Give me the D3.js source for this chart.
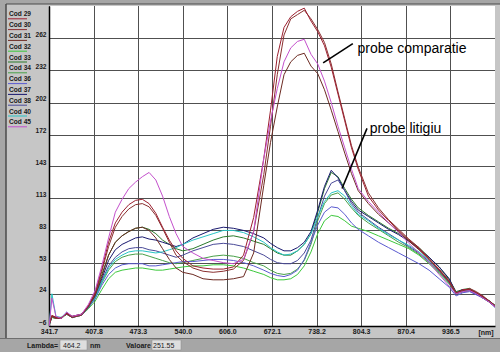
<!DOCTYPE html>
<html>
<head>
<meta charset="utf-8">
<script src="https://cdn.jsdelivr.net/npm/d3@7"></script>
<style>
  html, body { margin: 0; padding: 0; background: #a6a6a6; }
  svg { display: block; }
</style>
</head>
<body>
<div id="chart"></div>
<script>
// Spectra (nm vs value) for 11 samples
const WAVELENGTHS = [342, 346, 352, 360, 368, 376, 390, 400,
  410, 420, 430, 440, 450, 460, 470, 480, 490, 500, 510, 520, 530, 540,
  555, 570, 585, 600, 615, 630, 645, 660,
  670, 680, 690, 700, 710, 720, 730, 740, 750, 760, 770, 780, 790, 800,
  815, 830, 845, 860, 875, 890, 905, 920, 935,
  945, 955, 965, 975, 985, 995, 1003]

const COD_29 = [-4, 4, 2, 1, 6, 3, 5, 13,
  25, 47, 72, 90, 100, 107, 111, 112, 108, 99, 86, 74, 64, 57,
  50, 48, 47, 47, 49, 60, 95, 150,
  195, 245, 272, 282, 287, 290, 278, 268, 255, 235, 210, 185, 160, 140,
  115, 102, 92, 83, 74, 66, 56, 46, 35,
  24, 28, 28, 25, 21, 16, 12]
const COD_30 = [-5, 3, 1, 2, 5, 2, 4, 12,
  24, 45, 68, 86, 96, 103, 107, 108, 105, 97, 85, 72, 60, 54,
  48, 45, 44, 45, 47, 55, 82, 135,
  180, 228, 265, 280, 284, 288, 280, 270, 258, 238, 212, 187, 162, 142,
  118, 104, 93, 84, 75, 67, 57, 47, 36,
  25, 27, 29, 26, 22, 17, 13]
const COD_31 = [-4, 3, 2, 1, 6, 2, 5, 12,
  22, 40, 60, 72, 78, 82, 85, 86, 83, 76, 66, 56, 48, 44,
  42, 38, 37, 37, 38, 40, 62, 125,
  165, 198, 228, 240, 246, 248, 236, 229, 214, 195, 175, 155, 136, 120,
  108, 98, 90, 82, 73, 65, 56, 46, 35,
  25, 27, 28, 25, 21, 17, 13]
const COD_32 = [-5, 2, 1, 1, 5, 2, 4, 10,
  17, 28, 38, 44, 46, 47, 48, 48, 47, 46, 46, 47, 48, 49,
  50, 50, 51, 51, 50, 48, 45, 42,
  39, 37, 37, 38, 42, 50, 63, 80, 92, 97, 96, 92, 87, 85,
  82, 78, 74, 70, 66, 60, 52, 43, 33,
  24, 26, 27, 24, 20, 16, 12]
const COD_33 = [-4, 3, 2, 1, 6, 2, 5, 12,
  24, 42, 60, 72, 78, 82, 85, 86, 84, 80, 74, 70, 66, 64,
  66, 70, 74, 77, 78, 76, 73, 70,
  66, 62, 60, 60, 64, 70, 80, 100, 122, 137, 133, 122, 112, 104,
  97, 91, 85, 80, 74, 67, 58, 49, 37,
  26, 28, 29, 25, 21, 17, 13]
const COD_34 = [-5, 2, 1, 2, 5, 2, 4, 11,
  20, 34, 46, 54, 58, 60, 61, 61, 59, 57, 55, 53, 52, 53,
  55, 57, 59, 60, 59, 57, 53, 50,
  46, 43, 42, 43, 47, 55, 70, 92, 108, 116, 118, 112, 104, 97,
  90, 84, 78, 72, 67, 61, 53, 44, 34,
  24, 26, 27, 24, 20, 16, 12]
const COD_36 = [-5, 3, 2, 1, 6, 2, 4, 11,
  19, 32, 42, 48, 51, 52, 52, 52, 50, 50, 51, 52, 53, 54,
  54, 55, 56, 56, 55, 53, 50, 46,
  43, 41, 40, 42, 46, 56, 72, 88, 100, 105, 104, 98, 90, 84,
  78, 72, 67, 62, 57, 52, 46, 38, 30,
  22, 25, 26, 23, 20, 16, 11]
const COD_37 = [-4, 3, 2, 1, 6, 3, 5, 12,
  22, 38, 55, 65, 70, 73, 76, 77, 75, 74, 72, 70, 68, 70,
  76, 80, 84, 86, 85, 83, 80, 76,
  71, 67, 64, 64, 67, 72, 82, 102, 124, 139, 132, 120, 110, 102,
  96, 90, 84, 79, 73, 66, 58, 49, 38,
  25, 28, 28, 24, 21, 17, 12]
const COD_38 = [-5, 3, 1, 2, 5, 2, 5, 11,
  21, 36, 50, 58, 63, 66, 67, 67, 65, 64, 62, 60, 58, 60,
  64, 67, 70, 71, 70, 68, 64, 60,
  56, 53, 52, 52, 55, 62, 74, 95, 115, 127, 130, 120, 108, 100,
  93, 86, 80, 74, 68, 62, 54, 45, 34,
  24, 26, 27, 24, 20, 16, 12]
const COD_40 = [-6, 24, 3, 2, 7, 2, 5, 12,
  20, 35, 48, 56, 60, 63, 64, 64, 63, 62, 63, 65, 67, 70,
  74, 77, 80, 83, 83, 81, 77, 72,
  67, 63, 60, 61, 64, 70, 80, 96, 110, 118, 120, 115, 106, 98,
  92, 85, 79, 74, 69, 63, 55, 46, 35,
  25, 27, 28, 25, 21, 17, 13]
const COD_45 = [-6, 20, 3, 1, 7, 3, 5, 14,
  27, 50, 76, 100, 112, 122, 128, 133, 137, 130, 115, 96, 80, 68,
  62, 57, 55, 53, 52, 56, 82, 150,
  185, 215, 240, 253, 259, 261, 247, 238, 222, 202, 180, 160, 140, 122,
  110, 100, 90, 81, 71, 62, 53, 42, 31,
  24, 26, 27, 24, 20, 16, 12]

const SERIES_NAMES = ['Cod 29', 'Cod 30', 'Cod 31', 'Cod 32', 'Cod 33', 'Cod 34',
  'Cod 36', 'Cod 37', 'Cod 38', 'Cod 40', 'Cod 45']
const SERIES_VALUES = [COD_29, COD_30, COD_31, COD_32, COD_33, COD_34,
  COD_36, COD_37, COD_38, COD_40, COD_45]
const SERIES_COLORS = ['#9c2030', '#8a3030', '#6c2a22', '#3cc83c', '#2a7a2a', '#48a048',
  '#5a5ad0', '#18186e', '#4a4a98', '#28c4c4', '#c450cc']
// draw the comparison samples last so they sit on top
const DRAW_ORDER = [3, 4, 5, 6, 7, 8, 9, 2, 1, 0, 10]

const X_TICKS = [341.7, 407.8, 473.3, 540.0, 606.0, 672.1, 738.2, 804.3, 870.4, 936.5]
const X_DOMAIN = [341.7, 1002.7]
const Y_TICKS = [-6, 24, 53, 83, 113, 143, 172, 202, 232, 262]
const Y_DOMAIN = [-6, 292]

// annotation text + leader line ends, in data units (nm, value)
const NOTES = [
  { text: 'probe comparatie', at: [799, 248], from: [792, 257], to: [748, 239] },
  { text: 'probe litigiu', at: [817, 174], from: [813, 178], to: [776, 122] }
]

const W = 500
const H = 352
const margin = { top: 6, right: 5, bottom: 26, left: 49 }
const FONT = '"Liberation Sans", Arial, sans-serif'

const svg = d3.select('#chart').append('svg')
  .attr('width', W).attr('height', H)

// window frame
svg.append('rect').attr('width', W).attr('height', H).attr('fill', '#a6a6a6')
svg.append('rect')
  .attr('x', 6).attr('y', 4).attr('width', W - 6).attr('height', 334)
  .attr('fill', '#c6c6c6')
svg.append('line')
  .attr('x1', 6).attr('x2', 6).attr('y1', 4).attr('y2', 338)
  .attr('stroke', '#4a4a4a').attr('stroke-width', 1.5)
svg.append('line')
  .attr('x1', 6).attr('x2', W).attr('y1', 4).attr('y2', 4)
  .attr('stroke', '#4a4a4a').attr('stroke-width', 1)
svg.append('line')
  .attr('x1', 0).attr('x2', W).attr('y1', 338.5).attr('y2', 338.5)
  .attr('stroke', '#6e6e6e').attr('stroke-width', 1)

const x = d3.scaleLinear().domain(X_DOMAIN).range([margin.left, W - margin.right])
const y = d3.scaleLinear().domain(Y_DOMAIN).range([H - margin.bottom, margin.top])

// plot area
svg.append('rect')
  .attr('x', x.range()[0]).attr('y', y.range()[1])
  .attr('width', x.range()[1] - x.range()[0])
  .attr('height', y.range()[0] - y.range()[1])
  .attr('fill', '#ffffff')

svg.append('defs').append('clipPath').attr('id', 'plot-clip')
  .append('rect')
  .attr('x', x.range()[0]).attr('y', y.range()[1])
  .attr('width', x.range()[1] - x.range()[0])
  .attr('height', y.range()[0] - y.range()[1])

// grid
const grid = svg.append('g').attr('class', 'grid')
grid.selectAll('.gx').data(X_TICKS).join('line')
  .attr('class', 'gx')
  .attr('x1', d => Math.round(x(d)) + 0.5).attr('x2', d => Math.round(x(d)) + 0.5)
  .attr('y1', y.range()[1]).attr('y2', y.range()[0])
  .attr('stroke', '#505050').attr('stroke-width', 1)
grid.selectAll('.gy').data(Y_TICKS).join('line')
  .attr('class', 'gy')
  .attr('x1', x.range()[0]).attr('x2', x.range()[1])
  .attr('y1', d => Math.round(y(d)) + 0.5).attr('y2', d => Math.round(y(d)) + 0.5)
  .attr('stroke', '#505050').attr('stroke-width', 1)

// axes
const xAxis = svg.append('g')
  .attr('transform', `translate(0,${y.range()[0]})`)
  .call(d3.axisBottom(x).tickValues(X_TICKS).tickSize(0).tickPadding(3.5)
    .tickFormat(d3.format('.1f')))
xAxis.select('.domain').attr('stroke', '#000').attr('stroke-width', 1.5)
xAxis.selectAll('.tick text')
  .attr('fill', '#1a1a1a').attr('font-size', '7px').attr('font-weight', 'bold')
  .attr('font-family', FONT)

const yAxis = svg.append('g')
  .attr('transform', `translate(${x.range()[0]},0)`)
  .call(d3.axisLeft(y).tickValues(Y_TICKS).tickSize(0).tickPadding(2.5))
yAxis.select('.domain').attr('stroke', '#000').attr('stroke-width', 1.5)
yAxis.selectAll('.tick text')
  .attr('fill', '#1a1a1a').attr('font-size', '6.6px').attr('font-weight', 'bold')
  .attr('font-family', FONT)
  .attr('dy', '-0.3em')

svg.append('text')
  .attr('x', 486).attr('y', 334.5)
  .attr('text-anchor', 'middle')
  .attr('fill', '#1a1a1a').attr('font-size', '7px').attr('font-weight', 'bold')
  .attr('font-family', FONT)
  .text('[nm]')

// spectra
const lineFn = d3.line()
  .x((d, i) => x(WAVELENGTHS[i]))
  .y(d => y(d))

svg.append('g').attr('class', 'lines').attr('clip-path', 'url(#plot-clip)')
  .selectAll('path')
  .data(DRAW_ORDER)
  .join('path')
  .attr('d', i => lineFn(SERIES_VALUES[i]))
  .attr('fill', 'none')
  .attr('stroke', i => SERIES_COLORS[i])
  .attr('stroke-width', 1)
  .attr('stroke-linejoin', 'round')

// legend in the left panel
const legend = svg.append('g').attr('class', 'legend')
  .selectAll('g').data(SERIES_NAMES).join('g')
  .attr('transform', (d, i) => `translate(9,${14 + i * 10.8})`)
legend.append('text')
  .attr('y', 2.4)
  .attr('fill', '#1a1a1a').attr('font-size', '6.6px').attr('font-weight', 'bold')
  .attr('font-family', FONT)
  .text(d => d)
legend.append('line')
  .attr('x1', -1).attr('x2', 18).attr('y1', 4.8).attr('y2', 4.8)
  .attr('stroke', (d, i) => SERIES_COLORS[i]).attr('stroke-width', 1)

// annotations
const notes = svg.append('g').attr('class', 'notes')
notes.selectAll('line').data(NOTES).join('line')
  .attr('x1', d => x(d.from[0])).attr('y1', d => y(d.from[1]))
  .attr('x2', d => x(d.to[0])).attr('y2', d => y(d.to[1]))
  .attr('stroke', '#000').attr('stroke-width', 1.6)
notes.selectAll('text').data(NOTES).join('text')
  .attr('x', d => x(d.at[0])).attr('y', d => y(d.at[1]))
  .attr('fill', '#000').attr('font-size', '14px')
  .attr('font-family', FONT)
  .text(d => d.text)

// status bar
const status = svg.append('g').attr('class', 'status')
  .attr('font-family', FONT).attr('font-size', '7px').attr('font-weight', 'bold')
  .attr('fill', '#1a1a1a')
status.append('text').attr('x', 58).attr('y', 348).attr('text-anchor', 'end').text('Lambda=')
status.append('rect').attr('x', 60).attr('y', 340).attr('width', 27).attr('height', 10)
  .attr('fill', '#dedede').attr('stroke', '#8a8a8a').attr('stroke-width', 0.5)
status.append('text').attr('x', 63).attr('y', 348).attr('font-weight', 'normal').text('464.2')
status.append('text').attr('x', 90).attr('y', 348).text('nm')
status.append('text').attr('x', 151).attr('y', 348).attr('text-anchor', 'end').text('Valoare')
status.append('rect').attr('x', 152).attr('y', 340).attr('width', 29).attr('height', 10)
  .attr('fill', '#dedede').attr('stroke', '#8a8a8a').attr('stroke-width', 0.5)
status.append('text').attr('x', 153).attr('y', 348).attr('font-weight', 'normal').text('251.55')
</script>
</body>
</html>
